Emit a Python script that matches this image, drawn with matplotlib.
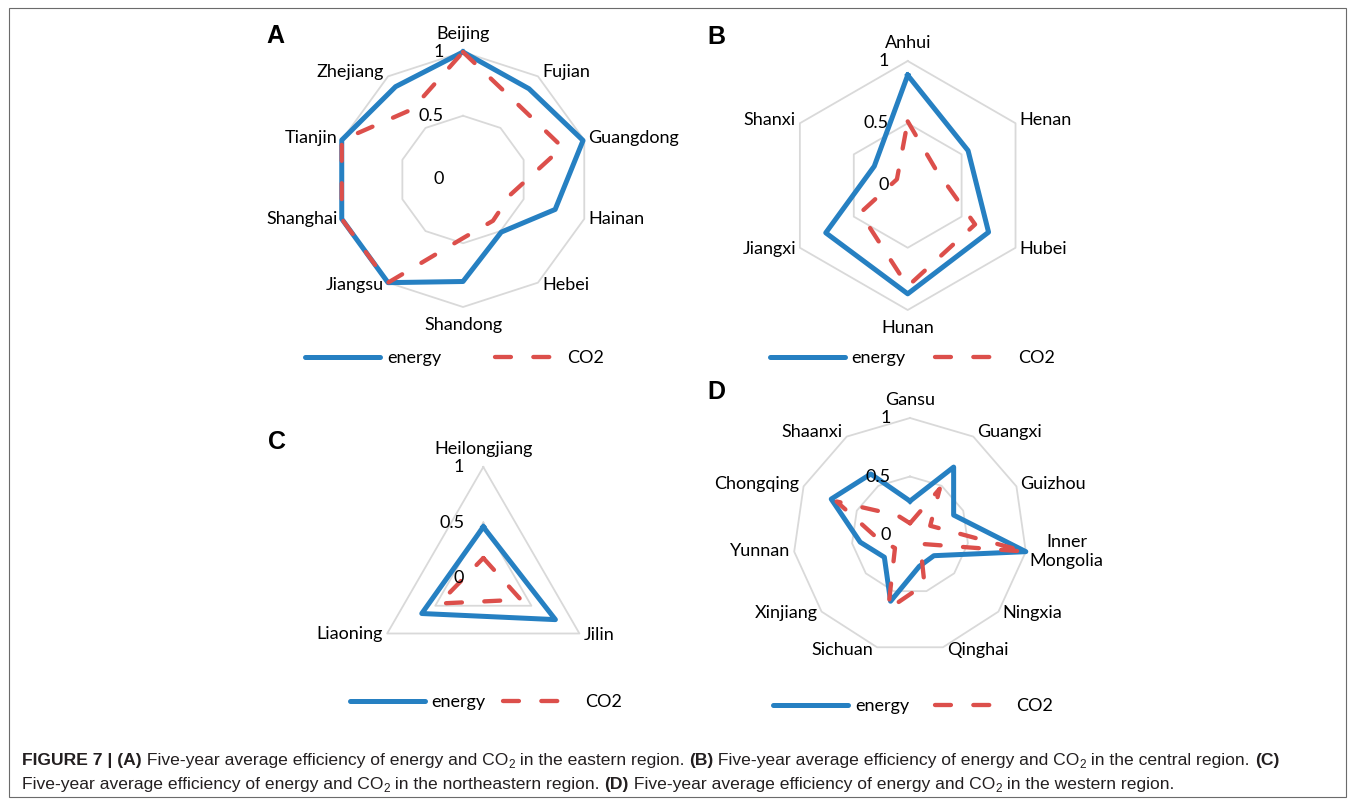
import numpy as np
import matplotlib
matplotlib.use("Agg")
import matplotlib.pyplot as plt
from matplotlib.lines import Line2D
from matplotlib.patches import Rectangle
from matplotlib import font_manager as fm

W, H, DPI = 1355, 802, 100

# ---------------- data ----------------
ticks = [0, 0.5, 1]
tick_labels = ["0", "0.5", "1"]
series_names = ["energy", "CO2"]

cats_A = ["Beijing", "Fujian", "Guangdong", "Hainan", "Hebei", "Shandong",
          "Jiangsu", "Shanghai", "Tianjin", "Zhejiang"]
energy_A = [1.0, 0.88, 0.99, 0.76, 0.51, 0.80, 1.0, 1.0, 1.0, 0.90]
co2_A = [1.0, 0.73, 0.82, 0.39, 0.40, 0.46, 1.0, 1.0, 1.0, 0.68]

cats_B = ["Anhui", "Henan", "Hubei", "Hunan", "Jiangxi", "Shanxi"]
energy_B = [0.886, 0.56, 0.75, 0.87, 0.76, 0.31]
co2_B = [0.515, 0.26, 0.625, 0.81, 0.44, 0.10]

cats_C = ["Heilongjiang", "Jilin", "Liaoning"]
energy_C = [0.46, 0.75, 0.64]
co2_C = [0.18, 0.39, 0.46]

cats_D = ["Gansu", "Guangxi", "Guizhou", "Inner\nMongolia", "Ningxia", "Qinghai",
          "Sichuan", "Xinjiang", "Yunnan", "Chongqing", "Shaanxi"]
energy_D = [0.29, 0.69, 0.41, 1.0, 0.27, 0.28, 0.59, 0.29, 0.43, 0.74, 0.62]
co2_D = [0.10, 0.47, 0.19, 1.0, 0.115, 0.44, 0.66, 0.17, 0.27, 0.69, 0.20]

caption_line1 = [("FIGURE 7 | (A)", "bold"),
                 (" Five-year average efficiency of energy and CO", "normal"), ("2", "sub"),
                 (" in the eastern region. ", "normal"), ("(B)", "bold"),
                 (" Five-year average efficiency of energy and CO", "normal"), ("2", "sub"),
                 (" in the central region. ", "normal"), ("(C)", "bold")]
caption_line2 = [("Five-year average efficiency of energy and CO", "normal"), ("2", "sub"),
                 (" in the northeastern region. ", "normal"), ("(D)", "bold"),
                 (" Five-year average efficiency of energy and CO", "normal"), ("2", "sub"),
                 (" in the western region.", "normal")]


def has_font(name):
    try:
        fm.findfont(fm.FontProperties(family=name), fallback_to_default=False)
        return True
    except Exception:
        return False


LABEL_FAMILY = ["Lato", "DejaVu Sans"] if has_font("Lato") else ["DejaVu Sans"]
CAP_FAMILY = "Liberation Sans Narrow" if has_font("Liberation Sans Narrow") else "Liberation Sans"
plt.rcParams["font.family"] = LABEL_FAMILY

BLUE = "#2680c2"
RED = "#dc4f4b"
GRID = "#d9d9d9"
FS = 13
FS_PX = FS * DPI / 72.0
BLUE_LW = 3.6
RED_LW = 3.1
RED_DASH = (0, (3.7, 5.2))

fig = plt.figure(figsize=(W / DPI, H / DPI), dpi=DPI)


def pf(x, y):
    return x / W, 1 - y / H


def radar(cx, cy, R, cats, energy, co2, legend_spec):
    S = 1.9 * R
    ax = fig.add_axes([(cx - S) / W, (H - cy - S) / H, 2 * S / W, 2 * S / H])
    lim = S / R
    ax.set_xlim(-lim, lim)
    ax.set_ylim(-lim, lim)
    ax.axis("off")
    n = len(cats)
    th = np.arange(n) * 2 * np.pi / n
    s, c = np.sin(th), np.cos(th)

    def closed(v):
        v = np.asarray(v, float)
        return np.append(v * s, v[0] * s[0]), np.append(v * c, v[0] * c[0])

    for r in ticks[1:]:
        xs, ys = closed(np.full(n, r))
        ax.plot(xs, ys, color=GRID, lw=1.3, zorder=1, clip_on=False)
    xs, ys = closed(energy)
    ax.plot(xs, ys, color=BLUE, lw=BLUE_LW, solid_joinstyle="round", zorder=3, clip_on=False)
    xs, ys = closed(co2)
    ax.plot(xs, ys, color=RED, lw=RED_LW, linestyle=RED_DASH, dash_capstyle="round",
            dash_joinstyle="round", zorder=4, clip_on=False)

    for r, lab in zip(ticks, tick_labels):
        ax.annotate(lab, (0, r), xytext=(-19, 0), textcoords="offset pixels",
                    ha="right", va="center", fontsize=FS, zorder=6)

    for cat, si, ci in zip(cats, s, c):
        if abs(si) < 0.2:
            ha = "center"
            va = "bottom" if ci > 0 else "top"
            off = (0, 10 * np.sign(ci))
        else:
            ha = "left" if si > 0 else "right"
            va = "center"
            off = (4 * np.sign(si), 4 * ci + 1)
        ax.annotate(cat, (si, ci), xytext=off, textcoords="offset pixels", ha=ha, va=va,
                    fontsize=FS, multialignment="center", zorder=6)

    # legend: one entry per legend so each can be spaced like the original
    handles = [Line2D([], [], color=BLUE, lw=BLUE_LW, solid_capstyle="round"),
               Line2D([], [], color=RED, lw=RED_LW, linestyle=RED_DASH, dash_capstyle="round")]
    lengths = [75, 61]
    y = legend_spec["y"]
    for h, name, x0, gap, L in zip(handles, series_names, legend_spec["x"], legend_spec["gap"], lengths):
        fig.legend([h], [name], loc="center left", bbox_to_anchor=pf(x0, y), frameon=False,
                   fontsize=FS, handlelength=L / FS_PX, handletextpad=gap / FS_PX,
                   borderpad=0, borderaxespad=0)
    return ax


radar(463, 179.5, 127.5, cats_A, energy_A, co2_A, {"y": 358, "x": (305, 495), "gap": (7, 11)})
radar(907.7, 185.5, 124.5, cats_B, energy_B, co2_B, {"y": 358, "x": (770, 935), "gap": (6, 22)})
radar(483.3, 578, 111, cats_C, energy_C, co2_C, {"y": 702, "x": (350, 503), "gap": (6, 21)})
radar(910, 535, 117, cats_D, energy_D, co2_D, {"y": 706, "x": (773, 935), "gap": (7, 20)})

# panel letters
for letter, (x, y) in zip("ABCD", [(266, 43), (707, 44), (268, 449), (707, 399)]):
    fig.text(*pf(x, y), letter, fontsize=18, fontweight="bold", family="Liberation Sans",
             ha="left", va="baseline")

# frame
fig.add_artist(Rectangle(pf(9, 797), (1346 - 9) / W, (797 - 8) / H, transform=fig.transFigure,
                         fill=False, ec="#6b6b6b", lw=0.8))

# caption with mixed styles
renderer = fig.canvas.get_renderer()


def seg_width(txt, size, weight):
    t = fig.text(0, 0, txt + "|", fontsize=size, fontweight=weight, family=CAP_FAMILY)
    w1 = t.get_window_extent(renderer).width
    t.set_text("|")
    w2 = t.get_window_extent(renderer).width
    t.remove()
    return w1 - w2


def layout(line, size):
    items = []
    for txt, kind in line:
        if kind == "sub":
            sz, wt, dy = size * 0.68, "normal", 3.5
        else:
            sz, wt, dy = size, kind, 0
        items.append((txt, sz, wt, dy, seg_width(txt, sz, wt)))
    return items


base = 12.0
natural = sum(it[4] for it in layout(caption_line1, base))
cap_size = base * 1260.0 / natural

for line, ybase in [(caption_line1, 765), (caption_line2, 789)]:
    x = 22.0
    for txt, sz, wt, dy, w in layout(line, cap_size):
        fig.text(*pf(x, ybase + dy), txt, fontsize=sz, fontweight=wt, family=CAP_FAMILY,
                 ha="left", va="baseline", color="#231f20")
        x += w

fig.savefig("out.png", dpi=DPI)
